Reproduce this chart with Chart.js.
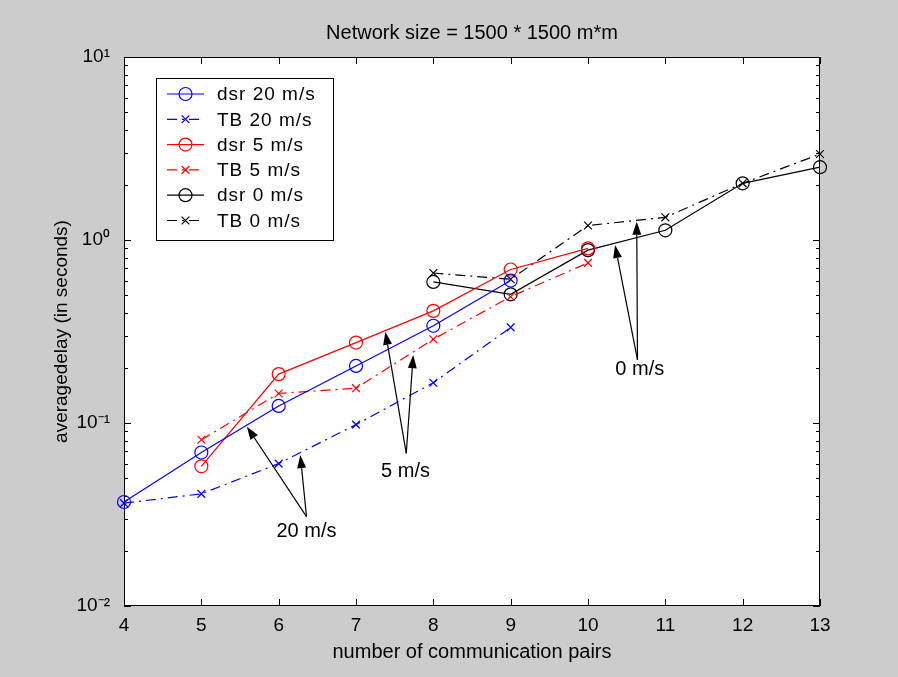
<!DOCTYPE html>
<html>
<head>
<meta charset="utf-8">
<title>Network size = 1500 * 1500 m*m</title>
<script src="https://cdn.jsdelivr.net/npm/chart.js@4.4.0/dist/chart.umd.min.js"></script>
<style>
    html, body { margin: 0; padding: 0; background: #cccccc; }
    canvas { display: block; }
</style>
</head>
<body>
<canvas id="delayChart" width="898" height="677" style="width:898px;height:677px"></canvas>
<script>
// values (delay in seconds)
const pairs20 = [4, 5, 6, 7, 8, 9];
const dsr20 = [0.037, 0.069, 0.124, 0.205, 0.34, 0.60];
const tb20 = [0.0365, 0.041, 0.060, 0.098, 0.166, 0.333];

const pairs5 = [5, 6, 7, 8, 9, 10];
const dsr5 = [0.058, 0.185, 0.275, 0.41, 0.69, 0.90];
const tb5 = [0.081, 0.145, 0.155, 0.287, 0.49, 0.75];

const pairs0 = [8, 9, 10, 11, 12, 13];
const dsr0 = [0.59, 0.505, 0.88, 1.13, 2.04, 2.50];
const tb0 = [0.66, 0.61, 1.20, 1.33, 2.04, 2.95];

const seriesNames = ['dsr 20 m/s', 'TB 20 m/s', 'dsr 5 m/s', 'TB 5 m/s', 'dsr 0 m/s', 'TB 0 m/s'];

// tick labels
const xTicks = [4, 5, 6, 7, 8, 9, 10, 11, 12, 13];
const yTickValues = [0.01, 0.1, 1, 10];
const yTickLabels = ['10\u207B\u00B2', '10\u207B\u00B9', '10\u2070', '10\u00B9'];

// arrow annotations (data units)
const noteText = ['20 m/s', '5 m/s', '0 m/s'];
const noteX = [6.36, 7.64, 10.67];
const noteY = [0.0254, 0.0542, 0.195];
const tailX = [6.36, 7.65, 10.64];
const tailY = [0.0308, 0.0683, 0.221];
const headX = [[5.59, 6.28], [7.38, 7.74], [10.35, 10.63]];
const headY = [[0.0955, 0.0668], [0.315, 0.235], [0.939, 1.259]];

const BLUE = '#0000ff';
const RED = '#ff0000';
const BLACK = '#000000';
const DASHDOT = [10, 5, 2, 5];

function points(xs, ys) {
    return xs.map((x, i) => ({ x: x, y: ys[i] }));
}

function series(label, xs, ys, color, dsr) {
    return {
        label: label,
        data: points(xs, ys),
        borderColor: color,
        backgroundColor: 'rgba(0,0,0,0)',
        borderWidth: 1.2,
        borderDash: dsr ? [] : DASHDOT,
        pointStyle: dsr ? 'circle' : 'crossRot',
        pointRadius: dsr ? 6.5 : 5.5,
        pointBorderWidth: 1.2,
        pointBackgroundColor: 'rgba(0,0,0,0)',
        pointBorderColor: color,
        tension: 0,
        clip: false
    };
}

function drawMarker(ctx, style, x, y, r) {
    ctx.beginPath();
    if (style === 'circle') {
        ctx.arc(x, y, r, 0, Math.PI * 2);
    } else {
        const d = r * Math.SQRT1_2;
        ctx.moveTo(x - d, y - d);
        ctx.lineTo(x + d, y + d);
        ctx.moveTo(x + d, y - d);
        ctx.lineTo(x - d, y + d);
    }
    ctx.stroke();
}

function drawArrow(ctx, x1, y1, x2, y2) {
    const ang = Math.atan2(y2 - y1, x2 - x1);
    const L = 13, W = 4.5;
    const bx = x2 - Math.cos(ang) * L, by = y2 - Math.sin(ang) * L;
    ctx.beginPath();
    ctx.moveTo(x1, y1);
    ctx.lineTo(bx, by);
    ctx.stroke();
    ctx.beginPath();
    ctx.moveTo(x2, y2);
    ctx.lineTo(bx - Math.sin(ang) * W, by + Math.cos(ang) * W);
    ctx.lineTo(bx + Math.sin(ang) * W, by - Math.cos(ang) * W);
    ctx.closePath();
    ctx.fill();
}

// gray figure, white axes box, inward ticks like matlab
const axesBox = {
    id: 'axesBox',
    beforeDraw(chart) {
        const { ctx, chartArea: a } = chart;
        ctx.save();
        ctx.fillStyle = '#cccccc';
        ctx.fillRect(0, 0, chart.width, chart.height);
        ctx.fillStyle = '#ffffff';
        ctx.fillRect(a.left, a.top, a.right - a.left, a.bottom - a.top);
        ctx.restore();
    },
    beforeDatasetsDraw(chart) {
        const { ctx, chartArea: a } = chart;
        const xs = chart.scales.x, ys = chart.scales.y;
        ctx.save();
        ctx.strokeStyle = BLACK;
        ctx.lineWidth = 1;
        ctx.strokeRect(Math.round(a.left) + 0.5, Math.round(a.top) + 0.5,
            Math.round(a.right - a.left) - 1, Math.round(a.bottom - a.top) - 1);
        ctx.beginPath();
        xTicks.forEach(v => {
            const px = Math.round(xs.getPixelForValue(v)) + 0.5;
            ctx.moveTo(px, a.bottom);
            ctx.lineTo(px, a.bottom - 7);
            ctx.moveTo(px, a.top);
            ctx.lineTo(px, a.top + 7);
        });
        for (let e = -2; e <= 1; e++) {
            for (let m = 1; m <= 9; m++) {
                const v = m * Math.pow(10, e);
                if (v > ys.max * 1.0001) break;
                const len = m === 1 ? 7 : 4;
                const py = Math.round(ys.getPixelForValue(v)) + 0.5;
                ctx.moveTo(a.left, py);
                ctx.lineTo(a.left + len, py);
                ctx.moveTo(a.right, py);
                ctx.lineTo(a.right - len, py);
            }
        }
        ctx.stroke();
        ctx.restore();
    },
    afterDatasetsDraw(chart) {
        const { ctx, chartArea: a } = chart;
        const xs = chart.scales.x, ys = chart.scales.y;
        ctx.save();

        // arrows and their labels
        ctx.strokeStyle = BLACK;
        ctx.fillStyle = BLACK;
        ctx.lineWidth = 1.2;
        noteText.forEach((t, i) => {
            const tx = xs.getPixelForValue(tailX[i]);
            const ty = ys.getPixelForValue(tailY[i]);
            headX[i].forEach((hx, j) => {
                drawArrow(ctx, tx, ty, xs.getPixelForValue(hx), ys.getPixelForValue(headY[i][j]));
            });
            ctx.font = '20px "Liberation Sans", Arial, sans-serif';
            ctx.textAlign = 'center';
            ctx.textBaseline = 'middle';
            ctx.fillText(t, xs.getPixelForValue(noteX[i]), ys.getPixelForValue(noteY[i]));
        });

        // legend box
        const bx = a.left + 32, by = a.top + 21, bw = 177, bh = 162;
        ctx.fillStyle = '#ffffff';
        ctx.fillRect(bx, by, bw, bh);
        ctx.lineWidth = 1;
        ctx.strokeStyle = BLACK;
        ctx.strokeRect(bx + 0.5, by + 0.5, bw, bh);
        ctx.font = '19px "Liberation Sans", Arial, sans-serif';
        ctx.textAlign = 'left';
        ctx.textBaseline = 'middle';
        if ('letterSpacing' in ctx) ctx.letterSpacing = '1px';
        chart.data.datasets.forEach((ds, i) => {
            const ly = by + 16 + i * 25.3;
            ctx.strokeStyle = ds.borderColor;
            ctx.lineWidth = 1.2;
            ctx.setLineDash(ds.borderDash);
            ctx.beginPath();
            ctx.moveTo(bx + 11, ly);
            ctx.lineTo(bx + 48, ly);
            ctx.stroke();
            ctx.setLineDash([]);
            drawMarker(ctx, ds.pointStyle, bx + 29.5, ly, ds.pointRadius);
            ctx.fillStyle = BLACK;
            ctx.fillText(ds.label, bx + 61, ly + 1);
        });
        ctx.restore();
    }
};

const ctx = document.getElementById('delayChart').getContext('2d');
new Chart(ctx, {
    type: 'line',
    data: {
        datasets: [
            series(seriesNames[0], pairs20, dsr20, BLUE, true),
            series(seriesNames[1], pairs20, tb20, BLUE, false),
            series(seriesNames[2], pairs5, dsr5, RED, true),
            series(seriesNames[3], pairs5, tb5, RED, false),
            series(seriesNames[4], pairs0, dsr0, BLACK, true),
            series(seriesNames[5], pairs0, tb0, BLACK, false)
        ]
    },
    options: {
        responsive: false,
        animation: false,
        layout: {
            padding: { top: 0, right: 78, bottom: 0, left: 0 }
        },
        scales: {
            x: {
                type: 'linear',
                min: 4,
                max: 13,
                afterBuildTicks: (scale) => {
                    scale.ticks = xTicks.map(v => ({ value: v }));
                },
                afterFit: (scale) => { scale.height = 71; },
                grid: { display: false, drawTicks: false },
                border: { display: false },
                ticks: {
                    color: BLACK,
                    padding: 8,
                    autoSkip: false,
                    maxRotation: 0,
                    font: { family: '"Liberation Sans", Arial, sans-serif', size: 19 }
                },
                title: {
                    display: true,
                    text: 'number of communication pairs',
                    color: BLACK,
                    padding: { top: 0, bottom: 13 },
                    font: { family: '"Liberation Sans", Arial, sans-serif', size: 20 }
                }
            },
            y: {
                type: 'logarithmic',
                min: 0.01,
                max: 10,
                afterBuildTicks: (scale) => {
                    scale.ticks = yTickValues.map(v => ({ value: v }));
                },
                afterFit: (scale) => { scale.width = 124; },
                grid: { display: false, drawTicks: false },
                border: { display: false },
                ticks: {
                    color: BLACK,
                    padding: 14,
                    autoSkip: false,
                    callback: function (value, index) {
                        return yTickLabels[index];
                    },
                    font: { family: '"Liberation Sans", Arial, sans-serif', size: 19 }
                },
                title: {
                    display: true,
                    text: 'averagedelay (in seconds)',
                    color: BLACK,
                    padding: { top: 50, bottom: 0 },
                    font: { family: '"Liberation Sans", Arial, sans-serif', size: 19 }
                }
            }
        },
        plugins: {
            legend: { display: false },
            tooltip: { enabled: false },
            title: {
                display: true,
                fullSize: false,
                text: 'Network size = 1500 * 1500 m*m',
                color: BLACK,
                padding: { top: 21, bottom: 12 },
                font: { family: '"Liberation Sans", Arial, sans-serif', size: 20, weight: 'normal' }
            }
        }
    },
    plugins: [axesBox]
});
</script>
</body>
</html>
